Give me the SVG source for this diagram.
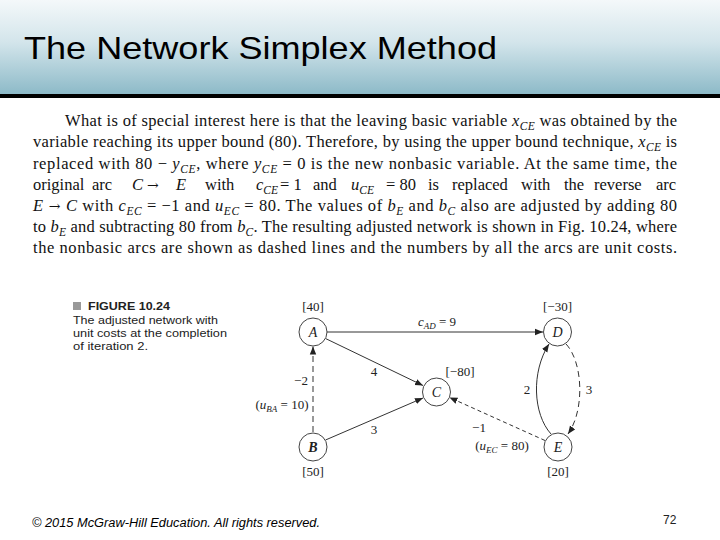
<svg xmlns="http://www.w3.org/2000/svg" width="720" height="540" viewBox="0 0 720 540">
<defs>
<linearGradient id="hdr" x1="0" y1="0" x2="0" y2="1">
<stop offset="0" stop-color="#f4f8fa"/>
<stop offset="0.45" stop-color="#d3e5eb"/>
<stop offset="1" stop-color="#8dbac8"/>
</linearGradient>
<marker id="ah" viewBox="0 0 10 10" refX="10" refY="5" markerWidth="8" markerHeight="8" markerUnits="userSpaceOnUse" orient="auto">
<path d="M0,1 L10,5 L0,9 z" fill="#222"/>
</marker>
<style>
.body{font-family:"Liberation Serif","Times New Roman",serif;font-size:16.5px;fill:#111}
.it{font-style:italic}
.sub{font-style:italic;font-size:11.5px}
.arr{font-family:"DejaVu Serif",serif;font-size:14px}
.cap{font-family:"Liberation Sans",Arial,sans-serif;font-size:11.5px;fill:#222}
.node circle{fill:#fff;stroke:#444;stroke-width:1}
.nl{font-family:"Liberation Serif","Times New Roman",serif;font-style:italic;font-size:14px;fill:#222;text-anchor:middle}
.lab{font-family:"Liberation Serif","Times New Roman",serif;font-size:13px;fill:#222;text-anchor:middle}
.labs{font-family:"Liberation Serif","Times New Roman",serif;font-style:italic;font-size:9px}
.edge{fill:none;stroke:#333;stroke-width:1;marker-end:url(#ah)}
.dash{stroke-dasharray:6,4}
.dash2{stroke-dasharray:4,3}
</style>
</defs>
<rect x="0" y="0" width="720" height="540" fill="#fff"/>
<rect x="0" y="0" width="720" height="94" fill="url(#hdr)"/>
<rect x="0" y="94" width="720" height="4" fill="#000"/>
<text x="24" y="59" font-family="Liberation Sans, Arial, sans-serif" font-size="32" fill="#000" textLength="473" lengthAdjust="spacingAndGlyphs">The Network Simplex Method</text>

<g id="paragraph" class="body">
<text x="65" y="126" textLength="612">What is of special interest here is that the leaving basic variable <tspan class="it">x</tspan><tspan class="sub" dy="4">CE</tspan><tspan dy="-4"> was obtained by the</tspan></text>
<text x="33" y="147.3" textLength="644">variable reaching its upper bound (80). Therefore, by using the upper bound technique, <tspan class="it">x</tspan><tspan class="sub" dy="4">CE</tspan><tspan dy="-4"> is</tspan></text>
<text x="33" y="168.5" textLength="644">replaced with 80 − <tspan class="it">y</tspan><tspan class="sub" dy="4">CE</tspan><tspan dy="-4">, where </tspan><tspan class="it">y</tspan><tspan class="sub" dy="4">CE</tspan><tspan dy="-4"> = 0 is the new nonbasic variable. At the same time, the</tspan></text>
<text y="189.7"><tspan x="33">original</tspan><tspan x="92">arc</tspan><tspan x="132" class="it">C</tspan><tspan x="147" class="arr">→</tspan><tspan x="176" class="it">E</tspan><tspan x="205">with</tspan><tspan x="256" class="it">c</tspan><tspan class="sub" dy="4">CE</tspan><tspan dy="-4" x="280">= 1</tspan><tspan x="313">and</tspan><tspan x="351" class="it">u</tspan><tspan class="sub" dy="4">CE</tspan><tspan dy="-4" x="386">= 80</tspan><tspan x="428">is</tspan><tspan x="452">replaced</tspan><tspan x="521">with</tspan><tspan x="564">the</tspan><tspan x="594">reverse</tspan><tspan x="656">arc</tspan></text>
<text x="33" y="211" textLength="644"><tspan class="it">E</tspan><tspan class="arr"> → </tspan><tspan class="it">C</tspan> with <tspan class="it">c</tspan><tspan class="sub" dy="4">EC</tspan><tspan dy="-4"> = −1 and </tspan><tspan class="it">u</tspan><tspan class="sub" dy="4">EC</tspan><tspan dy="-4"> = 80. The values of </tspan><tspan class="it">b</tspan><tspan class="sub" dy="4">E</tspan><tspan dy="-4"> and </tspan><tspan class="it">b</tspan><tspan class="sub" dy="4">C</tspan><tspan dy="-4"> also are adjusted by adding 80</tspan></text>
<text x="33" y="232.2" textLength="644">to <tspan class="it">b</tspan><tspan class="sub" dy="4">E</tspan><tspan dy="-4"> and subtracting 80 from </tspan><tspan class="it">b</tspan><tspan class="sub" dy="4">C</tspan><tspan dy="-4">. The resulting adjusted network is shown in Fig. 10.24, where</tspan></text>
<text x="33" y="253.4" textLength="644">the nonbasic arcs are shown as dashed lines and the numbers by all the arcs are unit costs.</text>
</g>

<g id="caption">
<rect x="73" y="302" width="8" height="8" fill="#999"/>
<text x="88" y="310" class="cap" font-weight="bold" textLength="82" lengthAdjust="spacingAndGlyphs">FIGURE 10.24</text>
<text x="73" y="324" class="cap" textLength="145" lengthAdjust="spacingAndGlyphs">The adjusted network with</text>
<text x="73" y="337" class="cap" textLength="154" lengthAdjust="spacingAndGlyphs">unit costs at the completion</text>
<text x="73" y="350" class="cap" textLength="75" lengthAdjust="spacingAndGlyphs">of iteration 2.</text>
</g>

<g id="connectors">
<line class="edge" x1="327" y1="332" x2="543" y2="332" stroke="#555"/>
<line class="edge" x1="325.5" y1="338.5" x2="423" y2="385.5"/>
<line class="edge" x1="325.5" y1="440" x2="423" y2="398"/>
<line class="edge dash" x1="313" y1="432" x2="313" y2="346.5"/>
<line class="edge dash2" x1="545" y1="440.5" x2="449.5" y2="397.5"/>
<path class="edge" d="M551,434 C533,414 531,372 549,344"/>
<path class="edge dash" d="M566,344 C583,362 585,410 568,434"/>
</g>

<g id="labels">
<text x="437" y="326" class="lab"><tspan font-style="italic">c</tspan><tspan class="labs" dy="3">AD</tspan><tspan dy="-3"> = 9</tspan></text>
<text x="374" y="376" class="lab">4</text>
<text x="374" y="434" class="lab">3</text>
<text x="301" y="385" class="lab">−2</text>
<text x="282" y="409" class="lab">(<tspan font-style="italic">u</tspan><tspan class="labs" dy="3">BA</tspan><tspan dy="-3"> = 10)</tspan></text>
<text x="479" y="432" class="lab">−1</text>
<text x="502" y="450" class="lab">(<tspan font-style="italic">u</tspan><tspan class="labs" dy="3">EC</tspan><tspan dy="-3"> = 80)</tspan></text>
<text x="527" y="394" class="lab">2</text>
<text x="589" y="394" class="lab">3</text>
</g>

<g id="node-A" class="node"><circle cx="313" cy="332" r="14"/><text x="313" y="337" class="nl">A</text><text x="313" y="311" class="lab">[40]</text></g>
<g id="node-B" class="node"><circle cx="313" cy="447" r="14"/><text x="313" y="452" class="nl" font-weight="bold">B</text><text x="313" y="476" class="lab">[50]</text></g>
<g id="node-C" class="node"><circle cx="436.5" cy="392" r="14"/><text x="436.5" y="397" class="nl">C</text><text x="460" y="376" class="lab">[−80]</text></g>
<g id="node-D" class="node"><circle cx="557.5" cy="332" r="14"/><text x="557.5" y="337" class="nl">D</text><text x="557.5" y="311" class="lab">[−30]</text></g>
<g id="node-E" class="node"><circle cx="558" cy="447" r="14"/><text x="558" y="452" class="nl">E</text><text x="558" y="476" class="lab">[20]</text></g>

<text x="32" y="527" font-family="Liberation Sans, Arial, sans-serif" font-style="italic" font-size="12.5" fill="#000" textLength="288" lengthAdjust="spacingAndGlyphs">© 2015 McGraw-Hill Education. All rights reserved.</text>
<text x="663" y="524" font-family="Liberation Sans, Arial, sans-serif" font-size="12" fill="#222">72</text>
</svg>
